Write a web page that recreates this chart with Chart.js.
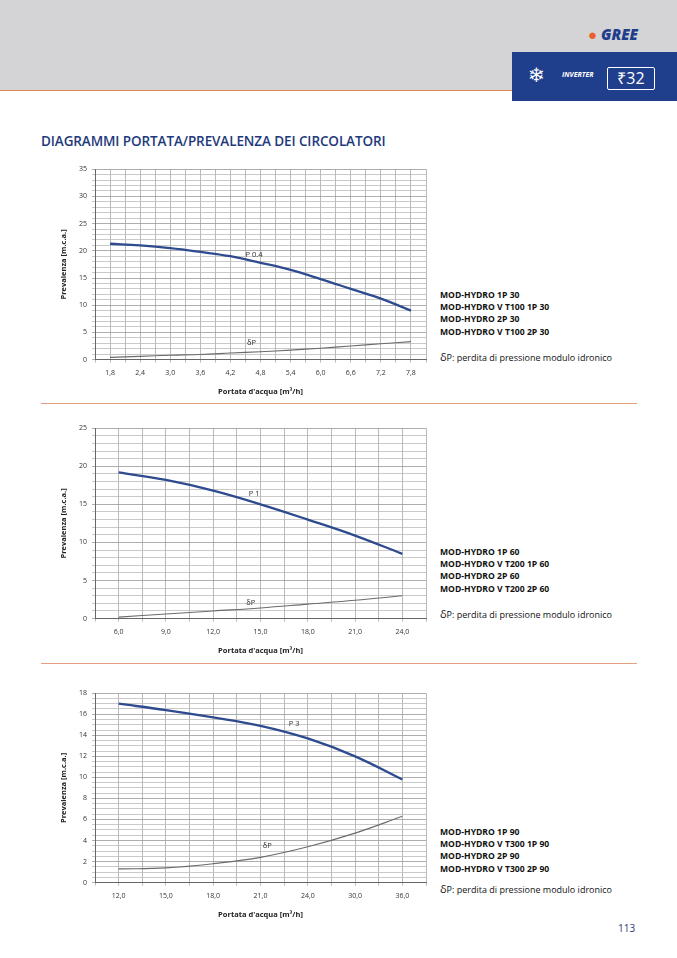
<!DOCTYPE html>
<html><head><meta charset="utf-8">
<script src="https://cdn.jsdelivr.net/npm/chart.js@4.4.1/dist/chart.umd.min.js"></script>
<style>
body{margin:0;width:677px;height:958px;position:relative;background:#fff;font-family:Montserrat,"Open Sans",sans-serif;overflow:hidden}
.hdr{position:absolute;left:0;top:0;width:677px;height:90px;background:#d4d4d6;border-bottom:1px solid #e08a5c}
.blue{position:absolute;left:512px;top:52px;width:165px;height:49px;background:#1f3e8c}
.logo{position:absolute;left:588px;top:24px;font:italic 900 15px "Open Sans",sans-serif;color:#1f3e8c}
.logo span{color:#e8602c}
.r32{position:absolute;left:607px;top:67px;width:46px;height:21px;border:1px solid #fff;border-radius:2px;color:#fff;font:16px "Open Sans";text-align:center;line-height:21px}
.inv{position:absolute;left:562px;top:70px;color:#fff;font:italic bold 7px "Open Sans"}
.snow{position:absolute;left:528px;top:63px;color:#fff;font:20px "DejaVu Sans"}
.title{position:absolute;left:41px;top:132px;font:600 13.5px "Open Sans",sans-serif;color:#1e3a7b;letter-spacing:-0.1px}
.sep{position:absolute;left:41px;width:596px;height:1px;background:#e5a080}
.txt{position:absolute;left:440px;font:bold 8.6px "Open Sans",sans-serif;color:#111;line-height:12.2px}
.dp{position:absolute;left:440px;font:9px "Open Sans",sans-serif;color:#111}
.dp b{font-size:11px;font-weight:normal}
.pn{position:absolute;left:618px;top:921px;font:10px "Open Sans";color:#1e3a7b}
.c{position:absolute}
</style></head><body>
<div class="hdr"></div>
<div class="logo"><span>&#9679;</span> GREE</div>
<div class="blue"></div>
<div class="snow">&#10052;</div>
<div class="inv">INVERTER</div>
<div class="r32">&#8377;32</div>
<div class="title">DIAGRAMMI PORTATA/PREVALENZA DEI CIRCOLATORI</div>
<div class="sep" style="top:403px"></div>
<div class="sep" style="top:663px"></div>
<div class="txt" style="top:289px">MOD-HYDRO 1P 30<br>MOD-HYDRO V T100 1P 30<br>MOD-HYDRO 2P 30<br>MOD-HYDRO V T100 2P 30</div>
<div class="dp" style="top:349px"><b>δ</b>P: perdita di pressione modulo idronico</div>
<div class="txt" style="top:546px">MOD-HYDRO 1P 60<br>MOD-HYDRO V T200 1P 60<br>MOD-HYDRO 2P 60<br>MOD-HYDRO V T200 2P 60</div>
<div class="dp" style="top:606px"><b>δ</b>P: perdita di pressione modulo idronico</div>
<div class="txt" style="top:826px">MOD-HYDRO 1P 90<br>MOD-HYDRO V T300 1P 90<br>MOD-HYDRO 2P 90<br>MOD-HYDRO V T300 2P 90</div>
<div class="dp" style="top:881px"><b>δ</b>P: perdita di pressione modulo idronico</div>
<div class="pn">113</div>
<div class="c" style="left:55px;top:160px;width:377px;height:240px"><canvas id="c1"></canvas></div>
<div class="c" style="left:55px;top:419px;width:377px;height:240px"><canvas id="c2"></canvas></div>
<div class="c" style="left:55px;top:684px;width:377px;height:239px"><canvas id="c3"></canvas></div>
<script>
const flow1 = ['1,8','2,4','3,0','3,6','4,2','4,8','5,4','6,0','6,6','7,2','7,8'];
const pump1 = [21.3,21.0,20.5,19.8,19.0,17.8,16.5,14.8,13.0,11.2,9.0];
const dp1   = [0.4,0.6,0.8,0.95,1.2,1.45,1.75,2.1,2.5,2.9,3.3];
const flow2 = ['6,0','9,0','12,0','15,0','18,0','21,0','24,0'];
const pump2 = [19.2,18.2,16.8,15.0,13.0,10.9,8.5];
const dp2   = [0.2,0.6,1.0,1.4,1.9,2.4,3.0];
const flow3 = ['12,0','15,0','18,0','21,0','24,0','30,0','36,0'];
const pump3 = [17.0,16.4,15.7,14.9,13.7,12.0,9.8];
const dp3   = [1.3,1.4,1.8,2.4,3.4,4.7,6.3];

function expand(a){const r=[null];a.forEach((v,i)=>{r.push(v);r.push(null);});return r;}
function labelsOf(a){const r=[''];a.forEach(v=>{r.push(v);r.push('');});return r;}
const txtPlugin={id:'txt',afterDatasetsDraw(ch){const o=ch.options.plugins.txt;const ctx=ch.ctx;ctx.save();ctx.fillStyle='#333';ctx.font='7.5px "Open Sans"';ctx.textAlign='left';ctx.textBaseline='middle';
 o.items.forEach(it=>{ctx.fillText(it[0],ch.scales.x.getPixelForValue(it[1]),ch.scales.y.getPixelForValue(it[2]));});ctx.restore();}};
function make(id,flow,pump,dp,ymax,minor,major,items){
 new Chart(document.getElementById(id),{type:'line',
  data:{labels:labelsOf(flow),datasets:[
   {data:expand(pump),borderColor:'#2d4b8e',borderWidth:2.3,pointRadius:0,tension:0.4,spanGaps:true},
   {data:expand(dp),borderColor:'#6b6b6b',borderWidth:1.1,pointRadius:0,tension:0.4,spanGaps:true}]},
  options:{animation:false,responsive:true,maintainAspectRatio:false,
   layout:{padding:{right:0,top:4}},
   plugins:{legend:{display:false},tooltip:{enabled:false},txt:{items}},
   scales:{
    x:{offset:false,grid:{color:'#a8a8a8',lineWidth:0.8,drawTicks:true,tickLength:3},border:{color:'#666'},
     ticks:{autoSkip:false,maxRotation:0,color:'#333',font:{size:7,family:'Open Sans'},padding:6},
     title:{display:true,text:"Portata d'acqua [m³/h]",color:'#222',font:{size:7.5,weight:'bold',family:'Open Sans'},padding:{top:4}}},
    y:{min:0,max:ymax,grid:{color:c=>(Math.abs(c.tick.value/major-Math.round(c.tick.value/major))<1e-6?'#999':'#bbb'),lineWidth:0.8,tickLength:3},border:{color:'#666'},
     ticks:{stepSize:minor,autoSkip:false,color:'#333',font:{size:7,family:'Open Sans'},padding:5,
      callback:v=>(Math.abs(v/major-Math.round(v/major))<1e-6?String(Math.round(v)):'')},
     title:{display:true,text:'Prevalenza [m.c.a.]',color:'#222',font:{size:7.5,weight:'bold',family:'Open Sans'},padding:{bottom:6}}}}},
  plugins:[txtPlugin]});
}
make('c1',flow1,pump1,dp1,35,1,5,[['P 0.4',10,19.3],['δP',10.1,3]]);
make('c2',flow2,pump2,dp2,25,1,5,[['P 1',6.5,16.4],['δP',6.4,2.1]]);
make('c3',flow3,pump3,dp3,18,0.5,2,[['P 3',8.2,15.1],['δP',7.1,3.5]]);
</script>
</body></html>
